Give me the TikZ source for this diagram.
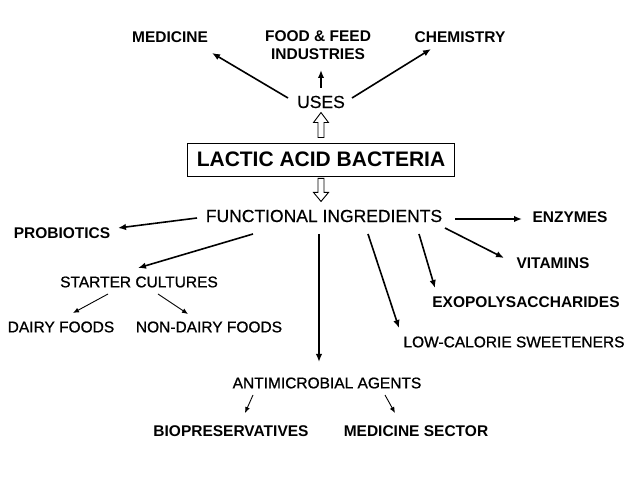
\documentclass[tikz,border=0pt]{standalone}
\usepackage{fontspec}
\setmainfont{Liberation Sans}
\newfontface\medfont{Liberation Sans}[FakeBold=0.9]
\newfontface\headfont{Liberation Sans}[FakeBold=0.4]
\usetikzlibrary{arrows.meta,calc}

\tikzset{
	lbl/.style={inner sep=0pt,font=\fontsize{15.5}{18}\medfont},
	blbl/.style={inner sep=0pt,font=\fontsize{15.5}{18}\selectfont\bfseries},
	head/.style={inner sep=0pt,font=\fontsize{17.5}{20}\headfont},
	main/.style={-{Latex[length=8pt,width=6.5pt]},line width=1.6pt},
	sub/.style={-{Latex[length=6pt,width=5pt]},line width=0.9pt},
	hollow/.style={line width=0.9pt,fill=white}
}

\begin{document}
\begin{tikzpicture}[x=1pt,y=-1pt]
		
		\useasboundingbox[fill=white] (0,0) rectangle (638,478);
		
		\node[blbl] (med) at (170,37) {MEDICINE};
		\node[blbl,align=center] (food) at (318,45.5) {FOOD \& FEED\\INDUSTRIES};
		\node[blbl] (chem) at (460,37) {CHEMISTRY};
		\node[head] (uses) at (321,102) {USES};
		
		\node[draw,line width=0.9pt,minimum width=267pt,minimum height=33pt,
		inner sep=0pt,font=\fontsize{21}{24}\selectfont\bfseries] (lab) at (321,159.5)
		{LACTIC ACID BACTERIA};
		
		\node[head] (fi) at (324,216) {FUNCTIONAL INGREDIENTS};
		\node[blbl] (prob) at (62,233) {PROBIOTICS};
		\node[blbl] (enz) at (570,217) {ENZYMES};
		\node[blbl] (vit) at (553,263) {VITAMINS};
		\node[lbl] (start) at (139,282) {STARTER CULTURES};
		\node[blbl] (exo) at (526,302) {EXOPOLYSACCHARIDES};
		\node[lbl] (dairy) at (61,327) {DAIRY FOODS};
		\node[lbl] (nondairy) at (209,327) {NON-DAIRY FOODS};
		\node[lbl] (lowcal) at (514,342) {LOW-CALORIE SWEETENERS};
		\node[lbl] (anti) at (327,383) {ANTIMICROBIAL AGENTS};
		\node[blbl] (bio) at (231,431) {BIOPRESERVATIVES};
		\node[blbl] (medsec) at (416,431) {MEDICINE SECTOR};
		
		% uses
		\draw[main] ($(uses)+(-33,-4)$) -- ($(med)+(42,16)$);
		\draw[main] ($(uses)+(0,-14)$) -- ($(food)+(3,24.5)$);
		\draw[main] ($(uses)+(31,-4)$) -- ($(chem)+(-29,12)$);
		
		% open arrows
		\draw[hollow] ($(lab.north)+(-3,-5)$) -- ++(0,-15) -- ++(-4.5,0) -- ++(7.5,-10)
		-- ++(7.5,10) -- ++(-4.5,0) -- ++(0,15) -- cycle;
		\draw[hollow] ($(lab.south)+(-3,2)$) -- ++(0,14) -- ++(-4.5,0) -- ++(7.5,9)
		-- ++(7.5,-9) -- ++(-4.5,0) -- ++(0,-14) -- cycle;
		
		% functional ingredients
		\draw[main] ($(fi)+(-127,2)$) -- ($(prob)+(56,-5)$);
		\draw[main] ($(fi)+(-71,18)$) -- ($(start)+(-1,-14)$);
		\draw[main] ($(fi)+(-5,18)$) -- ($(anti)+(-8,-21)$);
		\draw[main] ($(fi)+(44,18)$) -- ($(lowcal)+(-115,-14)$);
		\draw[main] ($(fi)+(95,18)$) -- ($(exo)+(-91,-14)$);
		\draw[main] ($(fi)+(121,12)$) -- ($(vit)+(-49,-5)$);
		\draw[main] ($(fi)+(131,3)$) -- ($(enz)+(-48,2)$);
		
		\draw[sub] ($(start)+(-31,12)$) -- ($(dairy)+(12,-14)$);
		\draw[sub] ($(start)+(19,12)$) -- ($(nondairy)+(-21,-13)$);
		\draw[sub] ($(anti)+(-74,12)$) -- ($(bio)+(14,-18)$);
		\draw[sub] ($(anti)+(58,12)$) -- ($(medsec)+(-21,-18)$);
		
	\end{tikzpicture}
\end{document}
